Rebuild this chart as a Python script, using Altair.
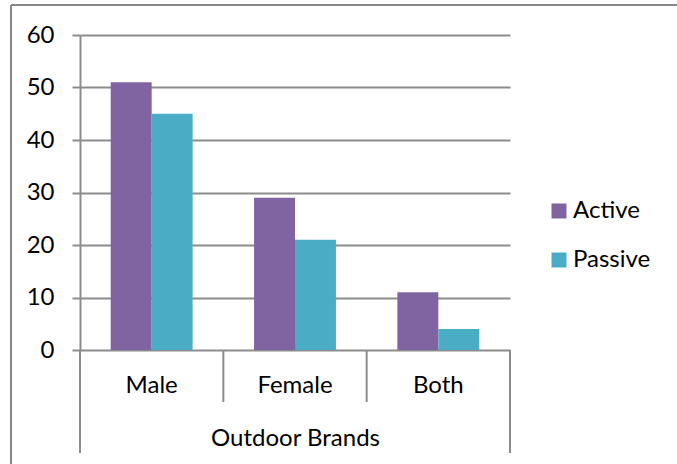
import altair as alt
import pandas as pd

# Survey counts by target audience of outdoor brands
categories = ["Male", "Female", "Both"]
active = [51, 29, 11]
passive = [45, 21, 4]
series = ["Active", "Passive"]
colors = ["#8064A2", "#4BACC6"]
y_ticks = [0, 10, 20, 30, 40, 50, 60]

rows = []
for cat, a, p in zip(categories, active, passive):
    rows.append({"audience": cat, "type": "Active", "count": a})
    rows.append({"audience": cat, "type": "Passive", "count": p})
df = pd.DataFrame(rows)

FONT = "Lato"
GRID = "#8c8c8c"
W, H = 430, 315

x_enc = alt.X(
    "audience:N",
    sort=categories,
    scale=alt.Scale(paddingInner=0, paddingOuter=0),
    axis=alt.Axis(
        title="Outdoor Brands",
        labelAngle=0,
        domain=False,
        ticks=False,
        grid=False,
        labelPadding=23,
        titlePadding=29,
        labelFont=FONT,
        labelFontSize=24,
        labelColor="#000000",
        titleFont=FONT,
        titleFontSize=24,
        titleFontWeight="normal",
        titleColor="#000000",
    ),
)

bars = alt.Chart(df).mark_bar().encode(
    x=x_enc,
    xOffset=alt.XOffset(
        "type:N",
        sort=series,
        scale=alt.Scale(paddingInner=0, paddingOuter=0.75),
    ),
    y=alt.Y(
        "count:Q",
        scale=alt.Scale(domain=[0, 60], nice=False),
        axis=alt.Axis(
            title=None,
            values=y_ticks,
            grid=True,
            gridColor=GRID,
            gridWidth=2,
            domainColor=GRID,
            domainWidth=2,
            tickColor=GRID,
            tickWidth=2,
            tickSize=8,
            labelPadding=18,
            labelFont=FONT,
            labelFontSize=24,
            labelColor="#000000",
        ),
    ),
    color=alt.Color(
        "type:N",
        sort=series,
        scale=alt.Scale(domain=series, range=colors),
        legend=alt.Legend(
            title=None,
            orient="none",
            legendX=467,
            legendY=164,
            symbolType="square",
            symbolSize=225,
            symbolStrokeWidth=0,
            labelFont=FONT,
            labelFontSize=24,
            labelColor="#000000",
            labelOffset=2,
            rowPadding=25,
            padding=0,
        ),
    ),
)

# Category separators below the baseline
sep_df = pd.DataFrame({"audience": categories})
separators = alt.Chart(sep_df).mark_rule(color=GRID, strokeWidth=2).encode(
    x=alt.X("audience:N", sort=categories, bandPosition=0),
    y=alt.value(H),
    y2=alt.value(H + 52),
)

# Outer edges of the category group, reaching past the group title
edge_left = alt.Chart(pd.DataFrame({"audience": [categories[0]]})).mark_rule(
    color=GRID, strokeWidth=2
).encode(
    x=alt.X("audience:N", sort=categories, bandPosition=0),
    y=alt.value(H),
    y2=alt.value(H + 103),
)
edge_right = alt.Chart(pd.DataFrame({"audience": [categories[-1]]})).mark_rule(
    color=GRID, strokeWidth=2
).encode(
    x=alt.X("audience:N", sort=categories, bandPosition=1),
    y=alt.value(H),
    y2=alt.value(H + 103),
)

# Chart frame (top and left edges)
one = pd.DataFrame({"k": [0]})
frame_top = alt.Chart(one).mark_rule(color="#868686", strokeWidth=2).encode(
    x=alt.value(-69), x2=alt.value(600), y=alt.value(-30)
)
frame_left = alt.Chart(one).mark_rule(color="#868686", strokeWidth=2).encode(
    x=alt.value(-69), y=alt.value(-30), y2=alt.value(440)
)

chart = (
    alt.layer(bars, separators, edge_left, edge_right, frame_top, frame_left)
    .properties(
        width=W,
        height=H,
        padding={"left": 80, "top": 35, "right": 167, "bottom": 114},
        autosize=alt.AutoSizeParams(type="none"),
        background="white",
    )
    .configure_view(stroke=None)
)

chart.save("out.html", embed_options={"renderer": "svg", "actions": False})
